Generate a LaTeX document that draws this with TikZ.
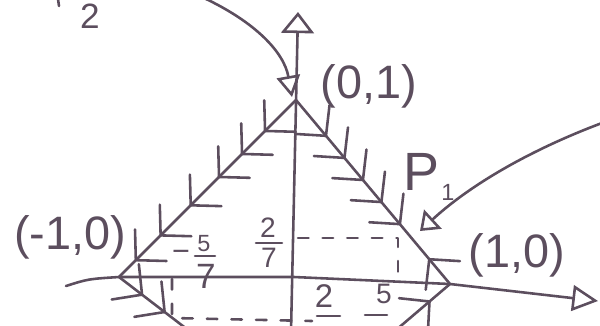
\documentclass[tikz,border=0pt]{standalone}
\usepackage{fontspec}
\setmainfont{Liberation Sans}
\usetikzlibrary{arrows.meta,decorations.markings}
\definecolor{ink}{RGB}{92,78,94}
\begin{document}
\begin{tikzpicture}[x=0.03cm,y=-0.03cm, line width=2.2pt, color=ink, line cap=round, line join=round,
  chevtip/.tip={Straight Barb[round,length=18pt,width=38pt]},
  chevat/.style={postaction={decorate,decoration={markings,mark=at position #1 with {\arrow{chevtip}}}}},
  revat/.style={postaction={decorate,decoration={markings,mark=at position #1 with {\arrowreversed{chevtip}}}}},
  guide/.style={dash pattern=on 9pt off 12pt},
  big/.style={inner sep=0pt,font=\fontsize{40}{40}\selectfont},
  digit/.style={inner sep=0pt,font=\fontsize{#1}{#1}\selectfont}]
\useasboundingbox (0,0) rectangle (600,325);
\clip (0,0) rectangle (600,325);

% key points
\coordinate (O1) at (296,100);
\coordinate (L) at (119,277);
\coordinate (R) at (450,284);
\coordinate (O) at (294,277);
\coordinate (yb) at (291,332);
\coordinate (yt) at (298,12);
\coordinate (xl) at (66,286);
\coordinate (xr) at (598,301);
\coordinate (LL) at (192,333);
\coordinate (LR) at (396,330);

% axes
\draw[-{Triangle[open,length=18pt,width=28pt]}] (yb) -- (yt);
\draw[-{Triangle[open,length=22pt,width=22pt]}] (xl) .. controls (88,279) .. (L) -- (O) -- (R) -- (xr);

% trajectories
\draw[chevat=.18,chevat=.31,chevat=.44,chevat=.6,chevat=.77,chevat=.91] (O1) -- (L);
\draw[chevat=.33,chevat=.64] (L) -- (LL);
\draw[chevat=.2,chevat=.32,chevat=.44,chevat=.56,chevat=.68,revat=.86] (O1) -- (R);
\draw[chevat=.64] (LR) -- (R);

% guide lines
\coordinate (d1) at (298,238);
\coordinate (d2) at (398,238);
\coordinate (d3) at (398,282);
\coordinate (d4) at (172,279);
\coordinate (d5) at (172,318);
\coordinate (d6) at (312,321);
\draw[guide] (d1) -- (d2) -- (d3);
\draw[guide] (d4) -- (d5) -- (d6);

% pointer arrows
\coordinate (c1) at (204,-2);
\coordinate (c1e) at (292,97);
\draw[-{Triangle[open,length=18pt,width=20pt]}] (c1) .. controls (255,22) and (284,52) .. (c1e);
\coordinate (c2) at (602,123);
\coordinate (c2e) at (420,231);
\draw[-{Triangle[open,length=15pt,width=22pt]}] (c2) .. controls (530,150) and (470,185) .. (c2e);

% labels
\node[big] (t01) at (369,86) {(0,1)};
\node[big] (tm10) at (70,237) {(-1,0)};
\node[big] (t10) at (517,255) {(1,0)};
\node[inner sep=0pt,font=\fontsize{46}{46}\selectfont] (tP) at (421,172) {P};
\node[digit=20] (tPs) at (448,192) {1};
\node[digit=30] (tP2) at (90,16) {2};
\coordinate (tk1) at (58,-1);
\coordinate (tk2) at (59,6);
\draw (tk1) -- (tk2);

% fractions
\node[digit=26] (mn) at (181,256) {−};
\node[digit=20] (n5a) at (204,244) {5};
\coordinate (b1) at (195,256);
\coordinate (b2) at (215,256);
\draw (b1) -- (b2);
\node[digit=30] (d7a) at (206,276) {7};

\node[digit=24] (n2a) at (268,228) {2};
\coordinate (b3) at (256,243);
\coordinate (b4) at (282,243);
\draw (b3) -- (b4);
\node[digit=24] (d7b) at (269,258) {7};

\node[digit=28] (n2b) at (324,296) {2};
\coordinate (b5) at (317,316);
\coordinate (b6) at (340,316);
\draw (b5) -- (b6);

\node[digit=24] (n5b) at (384,294) {5};
\coordinate (b7) at (365,315);
\coordinate (b8) at (387,315);
\draw (b7) -- (b8);
\end{tikzpicture}
\end{document}
